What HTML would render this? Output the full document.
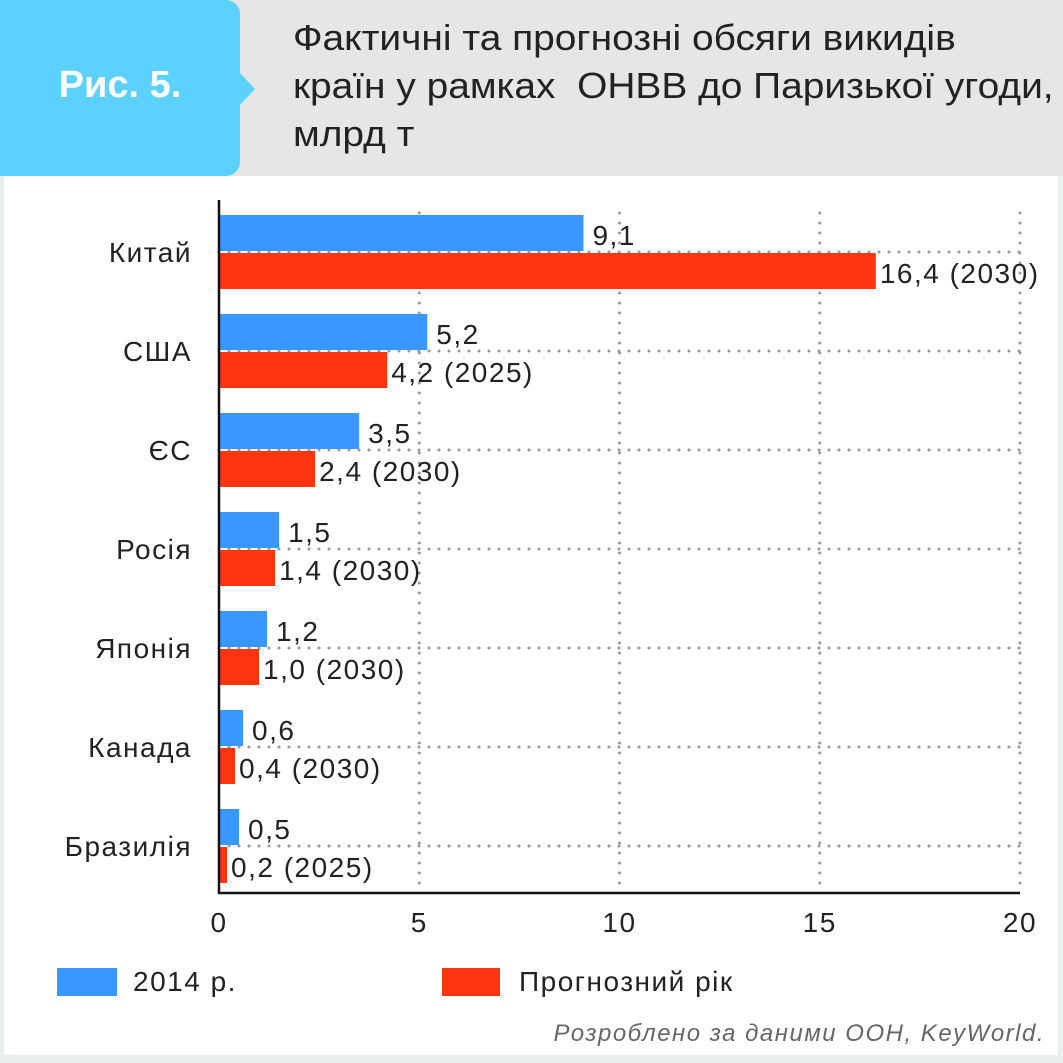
<!DOCTYPE html>
<html><head><meta charset="utf-8"><style>
body{margin:0;width:1063px;height:1063px;overflow:hidden;font-family:"Liberation Sans",sans-serif;}
#root{position:relative;width:1063px;height:1063px;background:#e9efef;}
#inner{position:absolute;left:4px;top:0;width:1054px;height:1055px;background:#fff;}
#hdr{position:absolute;left:0;top:0;width:1063px;height:176px;background:#e6e6e6;}
#tab{position:absolute;left:0;top:0;width:240px;height:176px;background:#5dd1fe;border-radius:0 14px 14px 0;}
#arrow{position:absolute;left:240px;top:73px;width:0;height:0;border-top:16px solid transparent;border-bottom:16px solid transparent;border-left:15px solid #5dd1fe;}
#fig{position:absolute;left:0;width:240px;top:64px;text-align:center;color:#fff;font-weight:bold;font-size:38px;}
#title{position:absolute;left:293px;top:14px;font-size:36px;line-height:48px;color:#222;transform:scaleX(1.08);transform-origin:0 0;white-space:nowrap;}
#src{position:absolute;right:18px;top:1020px;font-style:italic;color:#666;font-size:24px;letter-spacing:1.5px;}
svg text{letter-spacing:1.5px;}
</style></head><body>
<div id="root">
<div id="inner"></div>
<div id="hdr"></div>
<div id="tab"></div>
<div id="arrow"></div>
<div id="fig">Рис. 5.</div>
<div id="title">Фактичні та прогнозні обсяги викидів<br>країн у рамках&nbsp; ОНВВ до Паризької угоди,<br>млрд т</div>
<svg id="chart" width="1063" height="1063" style="position:absolute;left:0;top:0"></svg>
<div id="src">Розроблено за даними ООН, KeyWorld.</div>
</div>
<script>
const categories=["Китай","США","ЄС","Росія","Японія","Канада","Бразилія"];
const actual2014=[9.1,5.2,3.5,1.5,1.2,0.6,0.5];
const forecast=[16.4,4.2,2.4,1.4,1.0,0.4,0.2];
const forecastYears=["2030","2025","2030","2030","2030","2030","2025"];
const xTicks=[0,5,10,15,20];
const svg=document.getElementById('chart');
const NS='http://www.w3.org/2000/svg';
const x0=219,pxPerUnit=40.05,top0=215,pitch=99,barH=36,axisY=893;
const X=v=>x0+v*pxPerUnit;
const fmt=v=>v.toFixed(1).replace('.',',');
function mk(tag,attrs,text){const e=document.createElementNS(NS,tag);for(const k in attrs)e.setAttribute(k,attrs[k]);if(text!==undefined)e.textContent=text;svg.appendChild(e);return e;}
xTicks.forEach((t,i)=>{if(t===0)return;const g=mk('line',{x1:X(t),x2:X(t),y1:213,y2:axisY,stroke:'#999','stroke-width':3,'stroke-dasharray':'0 10','stroke-linecap':'round'});

});
categories.forEach((c,i)=>{const y=top0+pitch*i+barH+1;const g=mk('line',{x1:X(0),x2:X(20),y1:y,y2:y,stroke:'#999','stroke-width':3,'stroke-dasharray':'0 10','stroke-linecap':'round'});

});
categories.forEach((c,i)=>{
 const yb=top0+pitch*i, yr=yb+barH+2;
 const b=mk('rect',{x:X(0),y:yb,width:X(actual2014[i])-X(0),height:barH,fill:'#3898ff'});
 
 
 const r=mk('rect',{x:X(0),y:yr,width:X(forecast[i])-X(0),height:barH,fill:'#ff3510'});
 
 
 const lb=mk('text',{x:X(actual2014[i])+9,y:yb+barH-6,'font-size':28,fill:'#222'},fmt(actual2014[i]));
 
 
 const lr=mk('text',{x:X(forecast[i])+4,y:yr+barH-6,'font-size':28,fill:'#222'},fmt(forecast[i])+' ('+forecastYears[i]+')');
 
 
 const cl=mk('text',{x:192,y:yb+barH+11,'font-size':28,fill:'#222','text-anchor':'end'},c);
 
 
});
const ya=mk('line',{x1:X(0),x2:X(0),y1:200,y2:axisY+1,stroke:'#111','stroke-width':2.5});


const xa=mk('line',{x1:X(0)-1,x2:X(20),y1:axisY,y2:axisY,stroke:'#111','stroke-width':2.5});


xTicks.forEach(t=>{const tl=mk('text',{x:X(t),y:932,'font-size':28,fill:'#222','text-anchor':'middle'},String(t));

});
const l1=mk('rect',{x:57,y:968,width:60,height:28,fill:'#3898ff'});


const t1=mk('text',{x:133,y:991,'font-size':28,fill:'#222'},'2014 р.');


const l2=mk('rect',{x:442,y:968,width:58,height:28,fill:'#ff3510'});


const t2=mk('text',{x:519,y:991,'font-size':28,fill:'#222'},'Прогнозний рік');


</script>
</body></html>
